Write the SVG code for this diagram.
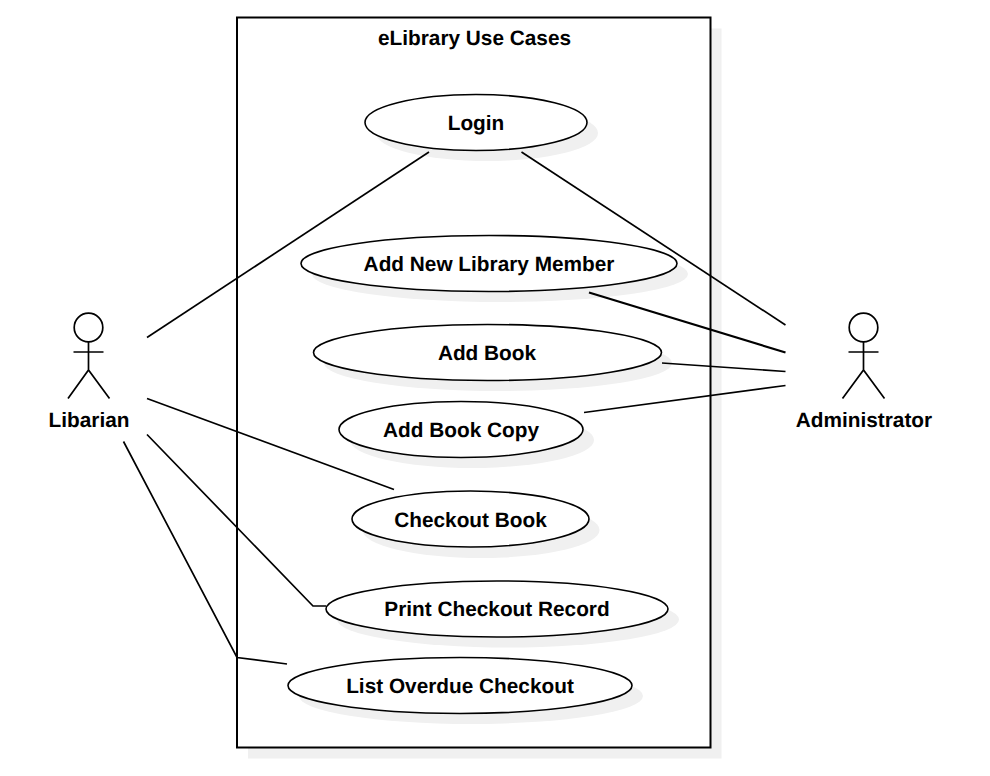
<svg xmlns="http://www.w3.org/2000/svg" width="990" height="776" viewBox="0 0 990 776">
<style>
.s{fill:#f0f0f0;stroke:none}
.b{fill:#fff;stroke:#000;stroke-width:2}
.e{fill:#fff;stroke:#000;stroke-width:1.6}
.l{fill:none;stroke:#000;stroke-width:1.7;stroke-linecap:butt;stroke-linejoin:miter}
.t{stroke-width:2.2}
text{font-family:"Liberation Sans",Arial,sans-serif;font-weight:700;font-size:20.8px;fill:#000;text-anchor:middle;text-rendering:geometricPrecision}
</style>
<rect width="990" height="776" fill="#fff"/>
<g id="system">
<rect class="s" x="248" y="28.500" width="473.500" height="730"/>
<rect class="b" x="237" y="17.500" width="473.500" height="730"/>
<text x="474.500" y="45">eLibrary Use Cases</text>
</g>
<g id="uc-login"><ellipse class="s" cx="487" cy="133" rx="111" ry="28"/><ellipse class="e" cx="476" cy="122.500" rx="111" ry="28"/><text x="476" y="130">Login</text></g>
<g id="uc-member"><ellipse class="s" cx="500" cy="274" rx="188" ry="28"/><ellipse class="e" cx="489" cy="263.500" rx="188" ry="28"/><text x="489" y="271">Add New Library Member</text></g>
<g id="uc-book"><ellipse class="s" cx="498" cy="363" rx="174" ry="28"/><ellipse class="e" cx="487.500" cy="352.500" rx="174" ry="28"/><text x="487" y="360">Add Book</text></g>
<g id="uc-copy"><ellipse class="s" cx="472" cy="440" rx="122" ry="28"/><ellipse class="e" cx="461" cy="429.500" rx="122" ry="28"/><text x="461" y="437">Add Book Copy</text></g>
<g id="uc-checkout"><ellipse class="s" cx="481" cy="530" rx="118.500" ry="28"/><ellipse class="e" cx="470.500" cy="519" rx="118.500" ry="28"/><text x="470.500" y="527">Checkout Book</text></g>
<g id="uc-print"><ellipse class="s" cx="508" cy="619.500" rx="171" ry="28"/><ellipse class="e" cx="497" cy="609" rx="171" ry="28"/><text x="497" y="616">Print Checkout Record</text></g>
<g id="uc-overdue"><ellipse class="s" cx="471" cy="696" rx="172" ry="28"/><ellipse class="e" cx="460" cy="685.500" rx="172" ry="28"/><text x="460" y="693">List Overdue Checkout</text></g>
<g id="actor-librarian">
<circle class="l" cx="88.500" cy="327.500" r="14.300"/>
<path class="l" d="M88.500 342V370M73.500 352H103.500M68 398.500L88.500 370L109.500 398.500"/>
<text x="89" y="427">Libarian</text>
</g>
<g id="actor-administrator">
<circle class="l" cx="863.500" cy="327.500" r="14.300"/>
<path class="l" d="M863.500 342V370M848.500 352H878.500M842.500 398.500L863.500 370L884.500 398.500"/>
<text x="864" y="427">Administrator</text>
</g>
<g id="connectors">
<path class="l" d="M147 337.500L429 152"/>
<path class="l" d="M521.500 152L785.500 325"/>
<path class="l t" d="M589 292.500L785.500 352.500"/>
<path class="l" d="M662 363L785.500 371.500"/>
<path class="l" d="M584 412.500L785.500 385.500"/>
<path class="l" d="M147 398.500L394 489.500"/>
<path class="l" d="M147 434.500L313 606H326"/>
<path class="l" d="M123.500 441.500L237 657.500L287 664"/>
</g>
</svg>
